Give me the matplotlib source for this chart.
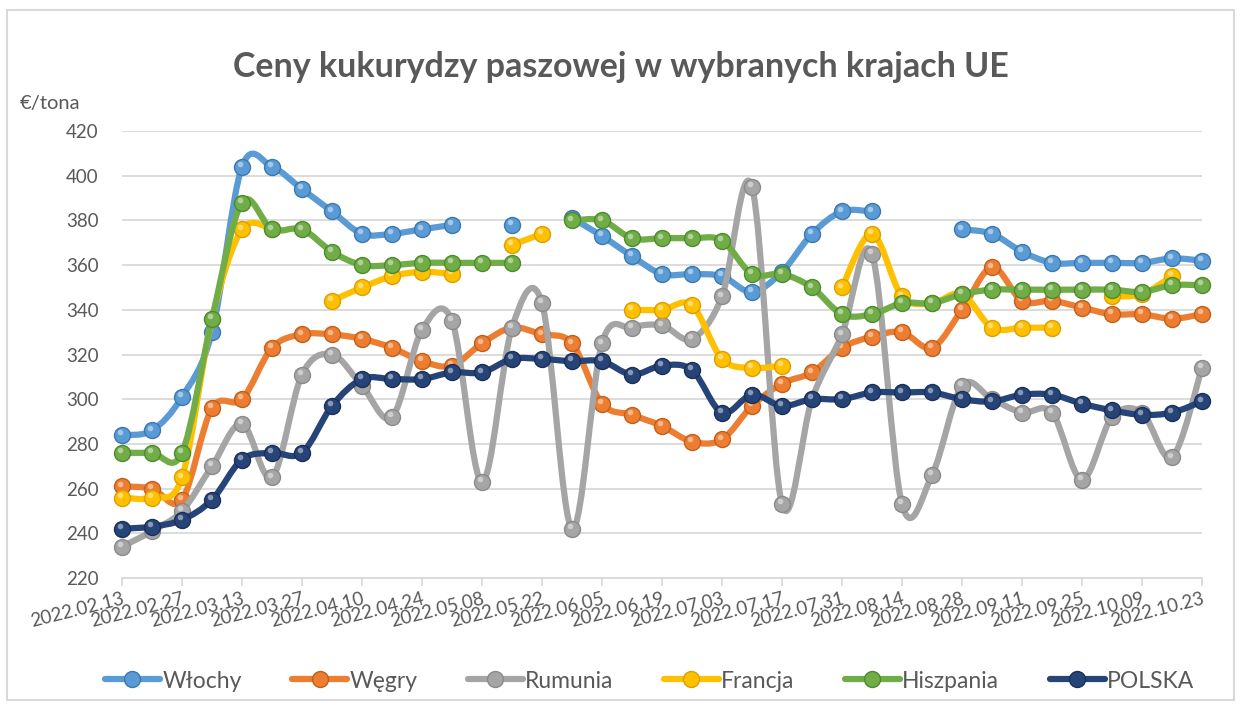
"""
Ceny kukurydzy paszowej w wybranych krajach UE (tygodniowo, 2022)
"""

import numpy as np
import pandas as pd
import matplotlib
matplotlib.use('Agg')
import matplotlib.pyplot as plt
import matplotlib.dates as mdates
import matplotlib.transforms as mtrans
from matplotlib.path import Path
from matplotlib.patches import PathPatch, Rectangle
from matplotlib.lines import Line2D

nan = np.nan

# tygodnie notowań
tygodnie = pd.date_range('2022-02-13', '2022-10-23', freq='7D')

wlochy = [284, 286, 301, 330, 404, 404, 394, 384, 374, 374, 376, 378, nan, 378, nan, 381, 373, 364, 356,
          356, 355, 348, 357, 374, 384, 384, nan, nan, 376, 374, 366, 361, 361, 361, 361, 363, 362]
wegry = [261, 260, 255, 296, 300, 323, 329, 329, 327, 323, 317, 315, 325, 332, 329, 325, 298, 293, 288,
         281, 282, 297, 307, 312, 323, 328, 330, 323, 340, 359, 344, 344, 341, 338, 338, 336, 338]
rumunia = [234, 241, 250, 270, 289, 265, 311, 320, 306, 292, 331, 335, 263, 332, 343, 242, 325, 332, 333,
           327, 346, 395, 253, 300, 329, 365, 253, 266, 306, 300, 294, 294, 264, 292, 294, 274, 314]
francja = [256, 256, 265, 336, 376, 376, nan, 344, 350, 355, 357, 356, nan, 369, 374, nan, nan, 340, 340,
           342, 318, 314, 315, nan, 350, 374, 346, 343, 347, 332, 332, 332, nan, 346, 347, 355, nan]
hiszpania = [276, 276, 276, 336, 388, 376, 376, 366, 360, 360, 361, 361, 361, 361, nan, 380, 380, 372, 372,
             372, 371, 356, 356, 350, 338, 338, 343, 343, 347, 349, 349, 349, 349, 349, 348, 351, 351]
polska = [242, 243, 246, 255, 273, 276, 276, 297, 309, 309, 309, 312, 312, 318, 318, 317, 317, 311, 315,
          313, 294, 302, 297, 300, 300, 303, 303, 303, 300, 299, 302, 302, 298, 295, 293, 294, 299]

kraje = ['Włochy', 'Węgry', 'Rumunia', 'Francja', 'Hiszpania', 'POLSKA']
serie = [wlochy, wegry, rumunia, francja, hiszpania, polska]
kolory = ['#5B9BD5', '#ED7D31', '#A5A5A5', '#FFC000', '#70AD47', '#264478']
krawedzie = ['#3A78B0', '#C0601C', '#8A8A8A', '#D9A000', '#4E8A2E', '#1A2F57']

plt.rcParams['font.family'] = ['Lato', 'DejaVu Sans']
szary = '#595959'


def gladka_sciezka(x, y):
    # wygładzona linia jak w Excelu (Catmull-Rom -> Bezier), przerwy przy brakach
    verts, codes = [], []
    ok = ~np.isnan(y)
    i, n = 0, len(y)
    while i < n:
        if not ok[i]:
            i += 1
            continue
        j = i
        while j + 1 < n and ok[j + 1]:
            j += 1
        px, py = x[i:j + 1], y[i:j + 1]
        if len(px) >= 2:
            verts.append((px[0], py[0]))
            codes.append(Path.MOVETO)
            for k in range(len(px) - 1):
                k0, k3 = max(k - 1, 0), min(k + 2, len(px) - 1)
                c1 = (px[k] + (px[k + 1] - px[k0]) / 6, py[k] + (py[k + 1] - py[k0]) / 6)
                c2 = (px[k + 1] - (px[k3] - px[k]) / 6, py[k + 1] - (py[k3] - py[k]) / 6)
                verts += [c1, c2, (px[k + 1], py[k + 1])]
                codes += [Path.CURVE4] * 3
        i = j + 1
    return Path(verts, codes) if verts else None


fig = plt.figure(figsize=(12.42, 7.08), dpi=100)
ax = fig.add_axes([122 / 1242, 1 - 578 / 708, 1080 / 1242, 447 / 708])

xs = mdates.date2num(tygodnie)
blask = mtrans.offset_copy(ax.transData, fig=fig, x=-1.5, y=2.0, units='points')

for nr, (wart, kol, kraw) in enumerate(zip(serie, kolory, krawedzie)):
    ys = np.array(wart, dtype=float)
    z = 3 + nr * 2
    sciezka = gladka_sciezka(xs, ys)
    if sciezka is not None:
        ax.add_patch(PathPatch(sciezka, facecolor='none', edgecolor=kol, lw=4.5,
                               capstyle='round', joinstyle='round', zorder=z, clip_on=False))
    ax.plot(tygodnie, ys, 'o', ms=11.5, mfc=kol, mec=kraw, mew=1.0, zorder=z + 0.5, clip_on=False)
    ax.plot(tygodnie, ys, 'o', ms=4, mfc='white', mec='none', alpha=0.45, zorder=z + 0.6,
            clip_on=False, transform=blask)

ax.set_ylim(220, 420)
ax.set_yticks(range(220, 421, 20))
ax.set_xlim(xs[0], xs[-1])
ax.set_xticks(tygodnie[::2])
ax.xaxis.set_major_formatter(mdates.DateFormatter('%Y.%m.%d'))

ax.grid(axis='y', color='#D9D9D9', lw=1.3)
ax.set_axisbelow(True)
for s in ['left', 'right', 'top']:
    ax.spines[s].set_visible(False)
ax.spines['bottom'].set_color('#D9D9D9')
ax.spines['bottom'].set_linewidth(1.3)
ax.tick_params(axis='y', length=0, labelsize=13.5, labelcolor=szary, pad=17)
ax.tick_params(axis='x', length=6, color='#D9D9D9', width=1.3, labelsize=13.5, labelcolor=szary, pad=3)
for lab in ax.get_xticklabels():
    lab.set_rotation(14)
    lab.set_ha('right')
    lab.set_va('top')
    lab.set_rotation_mode('anchor')

fig.text(20 / 1242, 1 - 103 / 708, '€/tona', fontsize=14.5, color=szary, va='center', ha='left')
fig.suptitle('Ceny kukurydzy paszowej w wybranych krajach UE', x=0.5, y=1 - 67 / 708,
             va='center', fontsize=24.5, fontweight='bold', color=szary)

uchwyty = [Line2D([], [], color=k, lw=4.5, marker='o', ms=11.5, mfc=k, mec=e, solid_capstyle='round')
           for k, e in zip(kolory, krawedzie)]
fig.legend(uchwyty, kraje, loc='center', bbox_to_anchor=(0.523, 1 - 681 / 708), ncol=6, frameon=False,
           fontsize=16.5, labelcolor=szary, handlelength=2.4, handletextpad=0.1, columnspacing=2.2)

fig.add_artist(Rectangle((7 / 1242, 8 / 708), 1227 / 1242, 690 / 708, transform=fig.transFigure,
                         fill=False, edgecolor='#D9D9D9', lw=1.5))

fig.savefig('out.png', dpi=100)
